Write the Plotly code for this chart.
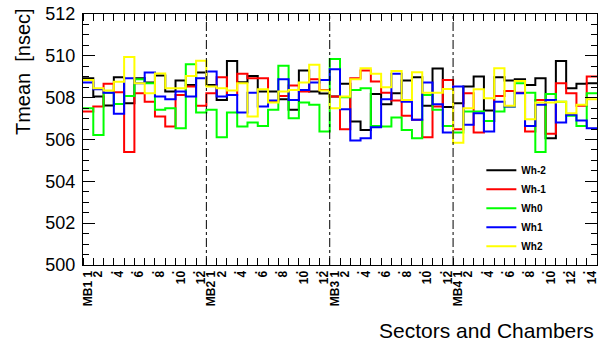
import plotly.graph_objects as go

chambers = ["MB1", "MB2", "MB3", "MB4"]
sectors_per_chamber = [12, 12, 12, 14]

wh_m2 = [508.93, 508.05, 507.62, 508.98, 507.73, 508.93, 508.72, 509.06, 508.29, 508.82, 508.61, 509.20,
         508.61, 507.89, 509.75, 508.74, 509.04, 508.29, 508.29, 507.92, 507.42, 509.30, 508.29, 508.20,
         508.05, 508.66, 506.86, 506.46, 508.18, 507.69, 508.21, 508.82, 508.98, 507.61, 509.40, 507.55,
         507.73, 508.53, 509.01, 507.39, 508.98, 508.82, 508.88, 508.61, 508.93, 506.06, 509.75, 508.45, 508.66, 508.69]
wh_m1 = [507.34, 507.58, 508.66, 508.26, 505.40, 508.21, 507.81, 507.10, 506.62, 508.13, 508.53, 507.61,
         508.21, 508.98, 508.13, 509.14, 508.93, 508.93, 507.81, 508.08, 508.58, 508.29, 508.88, 508.37,
         508.05, 506.49, 508.93, 509.30, 508.77, 508.24, 507.86, 507.13, 506.94, 506.11, 507.58, 508.85,
         506.49, 508.21, 506.33, 506.88, 508.08, 508.32, 508.24, 506.38, 507.89, 506.27, 508.69, 508.21, 507.61, 509.01]
wh_0 = [507.50, 506.22, 508.24, 507.70, 508.08, 508.88, 508.69, 507.42, 507.50, 506.54, 509.60, 507.29,
        507.42, 506.11, 507.29, 506.62, 506.81, 506.65, 507.42, 509.52, 507.02, 507.77, 507.66, 506.38,
        509.85, 508.02, 508.37, 508.45, 506.65, 506.62, 507.05, 506.46, 506.06, 508.13, 507.42, 506.65,
        506.33, 507.34, 507.34, 506.89, 507.34, 507.58, 508.69, 508.24, 505.40, 508.18, 507.81, 507.13, 506.65, 508.21]
wh_p1 = [508.72, 508.40, 508.24, 507.23, 508.93, 508.69, 509.20, 508.05, 507.92, 508.29, 508.05, 508.93,
         509.25, 508.05, 508.13, 507.29, 508.24, 507.58, 507.86, 508.88, 507.89, 508.37, 508.72, 508.85,
         509.36, 507.45, 505.95, 506.06, 506.59, 507.92, 509.14, 507.81, 506.94, 508.72, 507.69, 506.33,
         508.53, 506.70, 507.26, 506.38, 507.81, 507.58, 508.21, 506.65, 507.66, 507.89, 506.81, 507.18, 506.91, 506.54]
wh_p2 = [508.85, 508.45, 508.34, 508.76, 509.95, 508.69, 508.21, 509.15, 508.45, 508.45, 509.04, 509.76,
         508.53, 508.45, 508.34, 508.69, 507.10, 508.40, 507.77, 508.29, 508.37, 508.72, 509.57, 508.34,
         507.50, 508.05, 508.88, 509.41, 509.14, 508.50, 509.28, 507.89, 509.22, 508.24, 508.24, 508.42,
         505.85, 507.50, 508.40, 507.97, 509.41, 507.61, 508.80, 506.97, 507.77, 507.77, 507.81, 507.26, 507.66, 507.92]

series_names = ["Wh-2", "Wh-1", "Wh0", "Wh1", "Wh2"]
series_values = [wh_m2, wh_m1, wh_0, wh_p1, wh_p2]
series_colors = ["#000000", "#ff0000", "#00ff00", "#0000ff", "#ffff00"]

# tick labels
tick_labels = []
for ch, n in zip(chambers, sectors_per_chamber):
    for s in range(1, n + 1):
        if s == 1:
            tick_labels.append(f"{ch} 1")
        elif s % 2 == 0:
            tick_labels.append(str(s))
        else:
            tick_labels.append(".")

nbins = sum(sectors_per_chamber)
edges = list(range(nbins + 1))
centers = [i + 0.5 for i in range(nbins)]

FONT = "Liberation Sans, Arial, sans-serif"

fig = go.Figure()
for name, vals, col in zip(series_names, series_values, series_colors):
    fig.add_trace(go.Scatter(
        x=edges, y=vals + [vals[-1]], mode="lines", line_shape="hv",
        line=dict(color=col, width=2), name=name))

# chamber separators
pos = 0
for n in sectors_per_chamber[:-1]:
    pos += n
    fig.add_vline(x=pos, line=dict(color="black", width=1, dash="dashdot"))

fig.update_layout(
    width=600, height=349,
    margin=dict(l=83, r=1, t=14, b=84),
    paper_bgcolor="white", plot_bgcolor="white",
    font=dict(family=FONT, color="black"),
    showlegend=True,
    legend=dict(x=0.775, y=0.435, xanchor="left", yanchor="top",
                font=dict(family=FONT, size=10, weight="bold"),
                bgcolor="rgba(0,0,0,0)", itemwidth=30),
    xaxis=dict(range=[0, nbins], tickvals=centers, ticktext=tick_labels,
               tickangle=-90, ticks="", showgrid=False, zeroline=False,
               showline=True, linecolor="black", linewidth=1, mirror="ticks",
               tickfont=dict(family=FONT, size=12, weight="bold"),
               ticklabeloverflow="allow",
               minor=dict(tickvals=edges, ticks="inside", ticklen=7,
                          tickcolor="black", showgrid=False)),
    yaxis=dict(range=[500, 512], dtick=2, ticks="inside", ticklen=12,
               tickcolor="black", showgrid=False, zeroline=False,
               showline=True, linecolor="black", linewidth=1, mirror="ticks",
               tickfont=dict(family=FONT, size=18), ticklabelstandoff=3,
               minor=dict(dtick=0.5, ticks="inside", ticklen=6,
                          tickcolor="black", showgrid=False)),
    annotations=[
        dict(text="Tmean  [nsec]", xref="paper", yref="paper",
             x=-0.118, y=0.77, xanchor="center", yanchor="middle",
             textangle=-90, showarrow=False, font=dict(family=FONT, size=20)),
        dict(text="Sectors and Chambers", xref="paper", yref="paper",
             x=0.998, y=-0.26, xanchor="right", yanchor="middle",
             showarrow=False, font=dict(family=FONT, size=21)),
    ],
)

fig.write_html("out.html")
